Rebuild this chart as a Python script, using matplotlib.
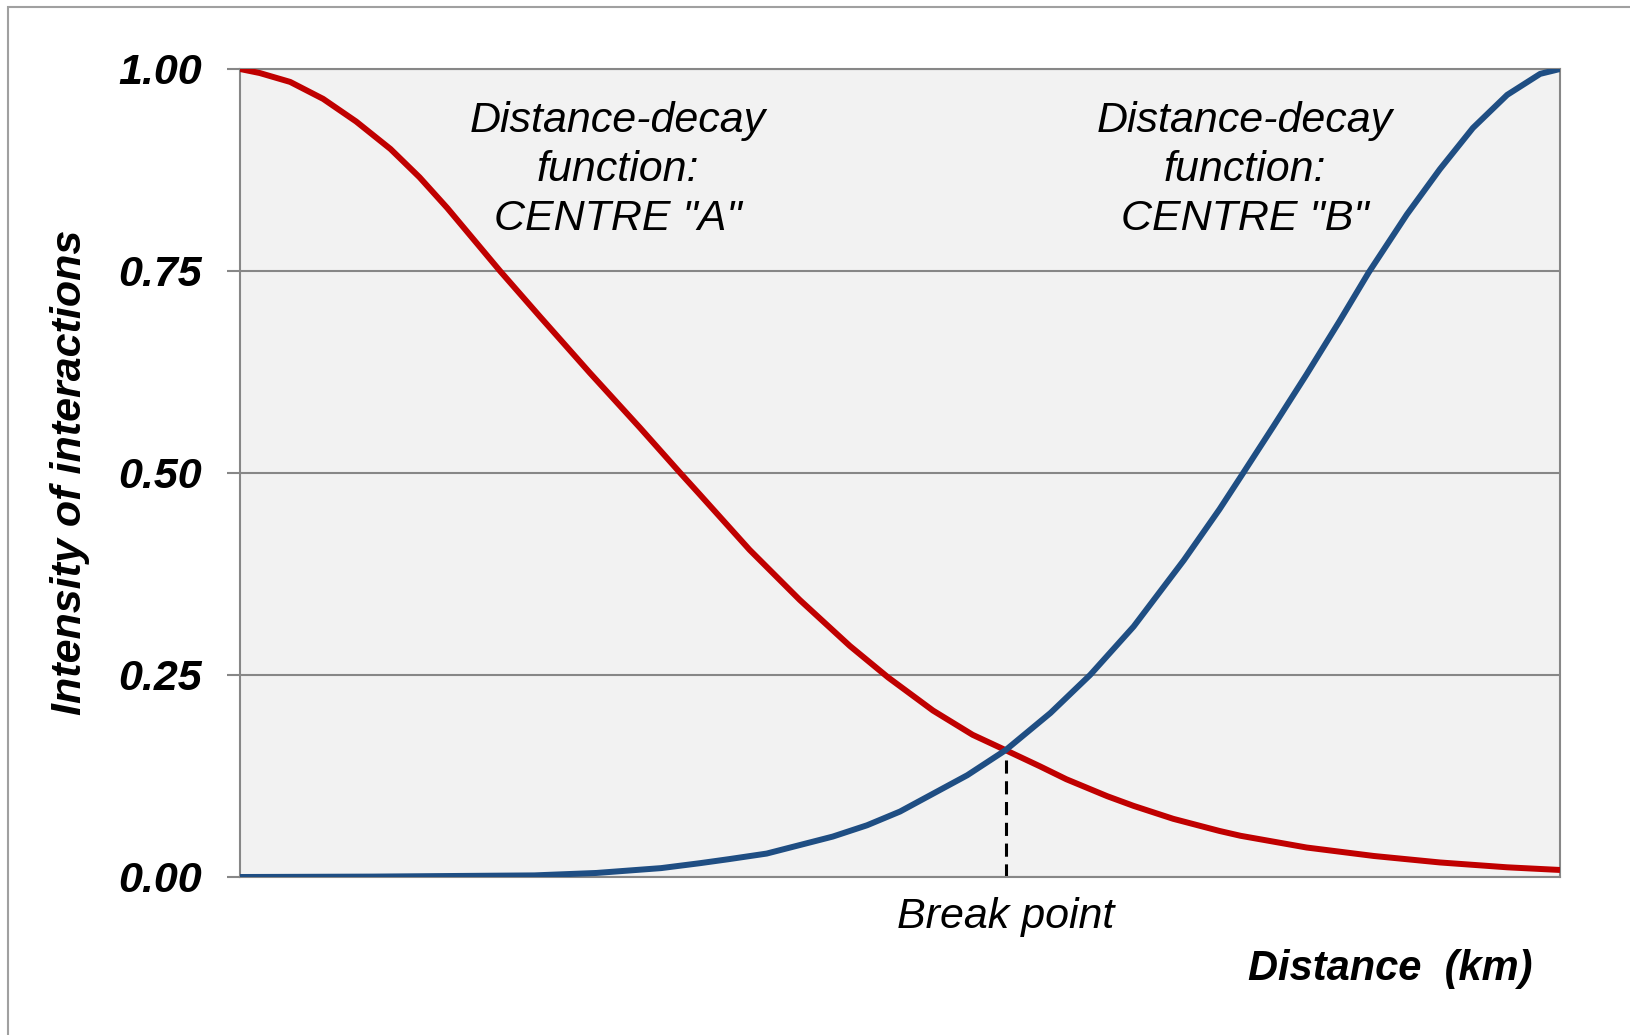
import matplotlib.pyplot as plt
from matplotlib.patches import Rectangle

plt.rcParams['font.family'] = ['Liberation Sans', 'DejaVu Sans']

# values (distance as a share of the axis)
red_x = [0, 0.015, 0.038, 0.063, 0.088, 0.114, 0.136, 0.157, 0.197, 0.227, 0.265,
         0.303, 0.333, 0.348, 0.386, 0.424, 0.462, 0.491, 0.525, 0.555, 0.580,
         0.606, 0.626, 0.657, 0.677, 0.707, 0.742, 0.758, 0.808, 0.859, 0.909,
         0.960, 1.0]
red_y = [1.0, 0.995, 0.984, 0.963, 0.935, 0.901, 0.866, 0.828, 0.750, 0.694, 0.624,
         0.556, 0.501, 0.474, 0.405, 0.343, 0.286, 0.247, 0.206, 0.176, 0.157,
         0.137, 0.121, 0.100, 0.088, 0.072, 0.057, 0.051, 0.0365, 0.026, 0.018,
         0.012, 0.0087]

blue_x = [0, 0.1, 0.223, 0.27, 0.319, 0.348, 0.37, 0.399, 0.449, 0.475, 0.5, 0.551,
          0.580, 0.614, 0.644, 0.677, 0.715, 0.742, 0.758, 0.783, 0.808, 0.833,
          0.855, 0.884, 0.909, 0.934, 0.960, 0.985, 1.0]
blue_y = [0, 0.0005, 0.002, 0.005, 0.011, 0.017, 0.022, 0.029, 0.050, 0.064, 0.081,
          0.126, 0.157, 0.203, 0.250, 0.310, 0.392, 0.455, 0.495, 0.558, 0.622,
          0.688, 0.748, 0.820, 0.876, 0.927, 0.968, 0.994, 1.0]

break_x = 0.58
break_y = 0.157

yticks = [0, 0.25, 0.5, 0.75, 1.0]
ytick_labels = ['0.00', '0.25', '0.50', '0.75', '1.00']

fig = plt.figure(figsize=(16.31, 10.35), dpi=100)
W, H = 1631, 1035
ax = fig.add_axes([240 / W, 1 - 877 / H, 1320 / W, 808 / H])
ax.set_facecolor('#f2f2f2')

# thin frame around the whole picture (cut off at right and bottom)
fig.patches.append(Rectangle((8 / W, -0.1), 1.2, 1 - 7 / H + 0.1, transform=fig.transFigure,
                             fill=False, edgecolor='#a0a0a0', linewidth=1.5))

for y in yticks:
    ax.axhline(y, color='#878787', linewidth=1.5, zorder=1)

ax.plot(red_x, red_y, color='#c00000', linewidth=4.3, solid_joinstyle='round',
        solid_capstyle='butt', zorder=3)
ax.plot(blue_x, blue_y, color='#1f4e83', linewidth=4.3, solid_joinstyle='round',
        solid_capstyle='butt', zorder=3)
ax.plot([break_x, break_x], [0, break_y], color='black', linewidth=2.2,
        linestyle=(0, (4.3, 2.5)), zorder=2)

ax.set_xlim(0, 1)
ax.set_ylim(0, 1)
ax.set_xticks([])
ax.set_yticks(yticks)
ax.set_yticklabels(ytick_labels, fontsize=31, fontweight='bold', fontstyle='italic')
ax.tick_params(axis='y', length=9.5, width=1.5, color='#878787', pad=18)
for side in ['left', 'right', 'bottom', 'top']:
    ax.spines[side].set_color('#878787')
    ax.spines[side].set_linewidth(1.5)

ax.text(0.286, 0.875, 'Distance-decay\nfunction:\nCENTRE "A"', ha='center', va='center',
        fontsize=31, fontstyle='italic', linespacing=1.29)
ax.text(0.761, 0.875, 'Distance-decay\nfunction:\nCENTRE "B"', ha='center', va='center',
        fontsize=31, fontstyle='italic', linespacing=1.29)

fig.text(1006 / W, 1 - 917 / H, 'Break point', ha='center', va='center',
         fontsize=31, fontstyle='italic')
fig.text(1533 / W, 1 - 969 / H, 'Distance  (km)', ha='right', va='center',
         fontsize=30, fontstyle='italic', fontweight='bold')
fig.text(70 / W, 1 - 472 / H, 'Intensity of interactions', ha='center', va='center',
         rotation=90, fontsize=31, fontstyle='italic', fontweight='bold')

plt.savefig('out.png', dpi=100)
